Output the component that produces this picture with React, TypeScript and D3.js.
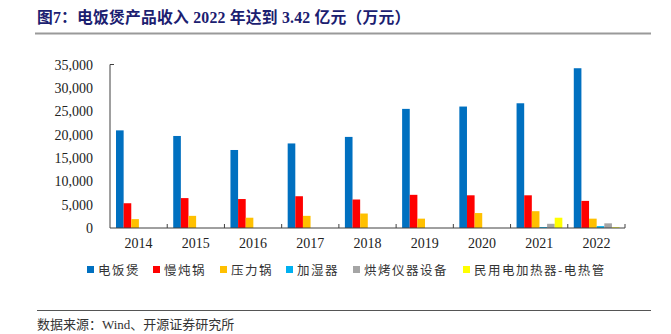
import React from "react";
import * as d3 from "d3";

const years = ["2014", "2015", "2016", "2017", "2018", "2019", "2020", "2021", "2022"];
const seriesNames = ["电饭煲", "慢炖锅", "压力锅", "加湿器", "烘烤仪器设备", "民用电加热器-电热管"];
const riceCooker = [20900, 19700, 16700, 18100, 19500, 25500, 26000, 26700, 34200];
const slowCooker = [5300, 6400, 6200, 6800, 6100, 7100, 7000, 7000, 5800];
const pressureCooker = [1900, 2600, 2200, 2600, 3100, 2000, 3200, 3600, 2000];
const humidifier = [0, 0, 0, 0, 0, 0, 0, 200, 400];
const oven = [0, 0, 0, 0, 0, 0, 0, 900, 1000];
const heater = [0, 0, 0, 0, 0, 0, 0, 2200, 150];
const yTicks = [0, 5000, 10000, 15000, 20000, 25000, 30000, 35000];
const colors = ["#0070C0", "#FF0000", "#FFC000", "#00B0F0", "#A5A5A5", "#FFFF00"];

const seriesValues = [riceCooker, slowCooker, pressureCooker, humidifier, oven, heater];

export default function App() {
  const W = 671, H = 334;
  const x0 = 110, x1 = 625, yTop = 64.5, yBot = 228;
  const x = d3.scaleBand<string>().domain(years).range([x0, x1]).padding(0);
  const bw = x.bandwidth();
  const xi = d3.scaleBand<number>().domain(d3.range(6)).range([bw * 0.105, bw * 0.905]).padding(0);
  const y = d3.scaleLinear().domain([0, 35000]).range([yBot, yTop]);
  const fmt = d3.format(",");
  const legendX = [87, 153, 220, 286, 353, 463];
  const serif = "'Liberation Serif', 'Times New Roman', serif";
  const cjk = "'Noto Sans CJK SC', sans-serif";
  const mixed = "'Liberation Serif', 'Noto Sans CJK SC', serif";

  return (
    <div style={{ position: "absolute", left: 0, top: 0 }}>
      <svg width={W} height={H} style={{ display: "block", background: "#fff" }}>
        <text x={37} y={23} fontFamily={mixed} fontWeight="bold" fontSize={15.8} letterSpacing={0.2} fill="#1B2070">
          图7：电饭煲产品收入 2022 年达到 3.42 亿元（万元）
        </text>
        <line x1={35} x2={651} y1={33.5} y2={33.5} stroke="#9A9A9A" strokeWidth={2} />

        {seriesValues.map((vals, si) =>
          vals.map((v, ci) =>
            v > 0 ? (
              <rect
                key={`${si}-${ci}`}
                x={(x(years[ci]) ?? 0) + (xi(si) ?? 0)}
                y={y(v)}
                width={xi.bandwidth()}
                height={yBot - y(v)}
                fill={colors[si]}
              />
            ) : null
          )
        )}

        <line x1={x0} x2={x0} y1={yTop} y2={yBot} stroke="#404040" strokeWidth={1} />
        <line x1={x0} x2={x0 + 4} y1={yTop} y2={yTop} stroke="#404040" strokeWidth={1} />
        <line x1={x0} x2={x1} y1={yBot} y2={yBot} stroke="#404040" strokeWidth={1} />
        {years.map((yr) => (
          <line key={yr} x1={(x(yr) ?? 0) + bw} x2={(x(yr) ?? 0) + bw} y1={yBot} y2={yBot - 4} stroke="#404040" strokeWidth={1} />
        ))}

        {yTicks.map((t) => (
          <text key={t} x={93} y={y(t) + 5} textAnchor="end" fontFamily={serif} fontSize={14} fill="#222">
            {fmt(t)}
          </text>
        ))}
        {years.map((yr) => (
          <text key={yr} x={(x(yr) ?? 0) + bw / 2} y={248} textAnchor="middle" fontFamily={serif} fontSize={14} fill="#222">
            {yr}
          </text>
        ))}

        {seriesNames.map((n, i) => (
          <g key={n}>
            <rect x={legendX[i]} y={266} width={7} height={7} fill={colors[i]} />
            <text x={legendX[i] + 11} y={274.5} fontFamily={cjk} fontSize={12.5} letterSpacing={1.5} fill="#333">
              {n}
            </text>
          </g>
        ))}

        <line x1={37} x2={651} y1={310.5} y2={310.5} stroke="#555" strokeWidth={1} />
        <text x={37} y={329} fontFamily={mixed} fontSize={13} fill="#333">
          数据来源：Wind、开源证券研究所
        </text>
      </svg>
    </div>
  );
}
